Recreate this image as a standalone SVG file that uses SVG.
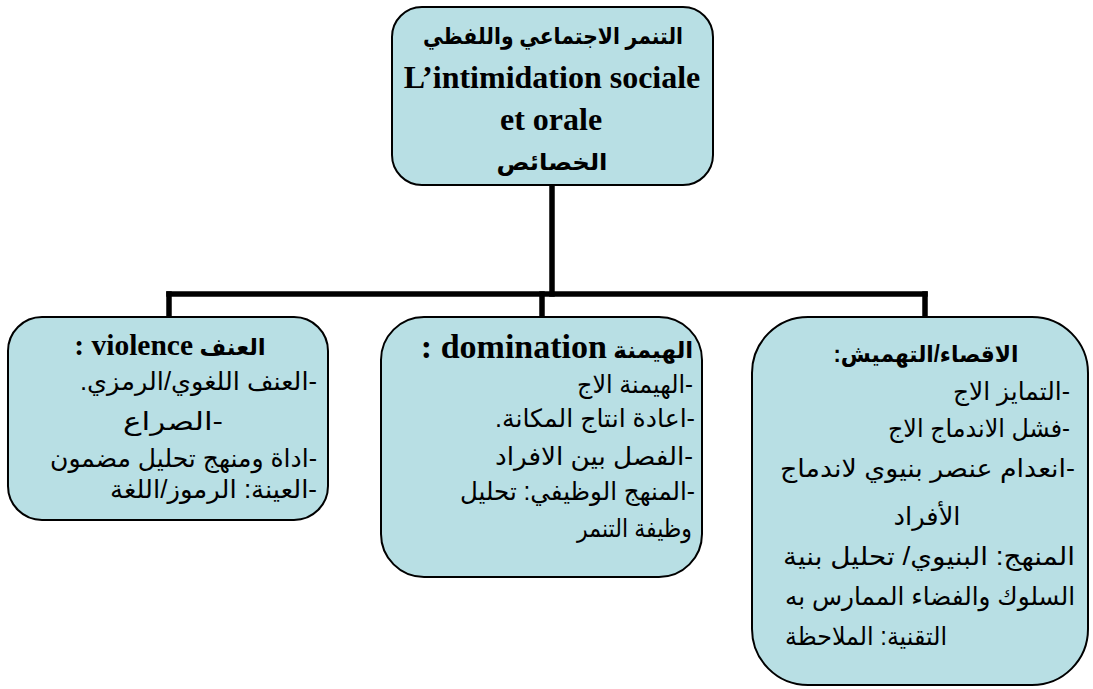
<svg xmlns="http://www.w3.org/2000/svg" width="1093" height="689" viewBox="0 0 1093 689">
<style>
.box{fill:#b8dfe4;stroke:#000;stroke-width:2}
.conn{stroke:#000;stroke-width:5.5;fill:none;stroke-linecap:square}
.ar{font-family:"Liberation Sans","DejaVu Sans",sans-serif;font-size:25px;fill:#000}
.arb{font-family:"Liberation Sans","DejaVu Sans",sans-serif;font-weight:bold;font-size:23px;fill:#000}
.lat{font-family:"Liberation Serif","Times New Roman",serif;font-weight:bold;fill:#000}
</style>
<rect width="1093" height="689" fill="#fff"/>
<g id="connectors">
<line class="conn" x1="552" y1="186" x2="552" y2="294"/>
<line class="conn" x1="169" y1="294" x2="925" y2="294"/>
<line class="conn" x1="169" y1="294" x2="169" y2="316"/>
<line class="conn" x1="542" y1="294" x2="542" y2="316"/>
<line class="conn" x1="925" y1="294" x2="925" y2="316"/>
</g>
<g id="root">
<rect class="box" x="392" y="7" width="321" height="178" rx="30"/>
<text class="arb" x="553" y="44" text-anchor="middle" direction="rtl" textLength="260" lengthAdjust="spacingAndGlyphs">التنمر الاجتماعي واللفظي</text>
<text class="lat" x="552" y="88" text-anchor="middle" font-size="32">L’intimidation sociale</text>
<text class="lat" x="551" y="130" text-anchor="middle" font-size="32">et orale</text>
<text class="arb" x="552" y="170" text-anchor="middle" direction="rtl" textLength="111" lengthAdjust="spacingAndGlyphs">الخصائص</text>
</g>
<g id="violence">
<rect class="box" x="8" y="317" width="320" height="203" rx="34"/>
<text x="170" y="355" text-anchor="middle" direction="rtl"><tspan class="arb" font-size="23">العنف </tspan><tspan class="lat" font-size="29.5">violence :</tspan></text>
<text class="ar" x="317" y="390" direction="rtl" textLength="237" lengthAdjust="spacingAndGlyphs">-العنف اللغوي/الرمزي.</text>
<text class="ar" x="173" y="430" text-anchor="middle" direction="rtl" textLength="100" lengthAdjust="spacingAndGlyphs">-الصراع</text>
<text class="ar" x="317" y="467" direction="rtl" textLength="267" lengthAdjust="spacingAndGlyphs">-اداة ومنهج تحليل مضمون</text>
<text class="ar" x="317" y="498" direction="rtl" textLength="207" lengthAdjust="spacingAndGlyphs">-العينة: الرموز/اللغة</text>
</g>
<g id="domination">
<rect class="box" x="381" y="317" width="321" height="260" rx="43"/>
<text x="557" y="358" text-anchor="middle" direction="rtl"><tspan class="arb" font-size="24">الهيمنة </tspan><tspan class="lat" font-size="34">domination :</tspan></text>
<text class="ar" x="693" y="393" direction="rtl" textLength="116" lengthAdjust="spacingAndGlyphs">-الهيمنة الاج</text>
<text class="ar" x="695" y="427" direction="rtl" textLength="200" lengthAdjust="spacingAndGlyphs">-اعادة انتاج المكانة.</text>
<text class="ar" x="693" y="465" direction="rtl" textLength="198" lengthAdjust="spacingAndGlyphs">-الفصل بين الافراد</text>
<text class="ar" x="695" y="500" direction="rtl" textLength="235" lengthAdjust="spacingAndGlyphs">-المنهج الوظيفي: تحليل</text>
<text class="ar" x="692" y="537" direction="rtl" textLength="115" lengthAdjust="spacingAndGlyphs">وظيفة التنمر</text>
</g>
<g id="exclusion">
<rect class="box" x="752" y="317" width="336" height="368" rx="56"/>
<text class="arb" x="926" y="362" text-anchor="middle" direction="rtl" textLength="185" lengthAdjust="spacingAndGlyphs">الاقصاء/التهميش:</text>
<text class="ar" x="1070" y="400" direction="rtl" textLength="117" lengthAdjust="spacingAndGlyphs">-التمايز الاج</text>
<text class="ar" x="1070" y="437" direction="rtl" textLength="182" lengthAdjust="spacingAndGlyphs">-فشل الاندماج الاج</text>
<text class="ar" x="1075" y="477" direction="rtl" textLength="295" lengthAdjust="spacingAndGlyphs">-انعدام عنصر بنيوي لاندماج</text>
<text class="ar" x="927" y="525" text-anchor="middle" direction="rtl" textLength="67" lengthAdjust="spacingAndGlyphs">الأفراد</text>
<text class="ar" x="1075" y="565" direction="rtl" textLength="292" lengthAdjust="spacingAndGlyphs">المنهج: البنيوي/ تحليل بنية</text>
<text class="ar" x="1075" y="605" direction="rtl" textLength="290" lengthAdjust="spacingAndGlyphs">السلوك والفضاء الممارس به</text>
<text class="ar" x="947" y="645" direction="rtl" textLength="162" lengthAdjust="spacingAndGlyphs">التقنية: الملاحظة</text>
</g>
</svg>
